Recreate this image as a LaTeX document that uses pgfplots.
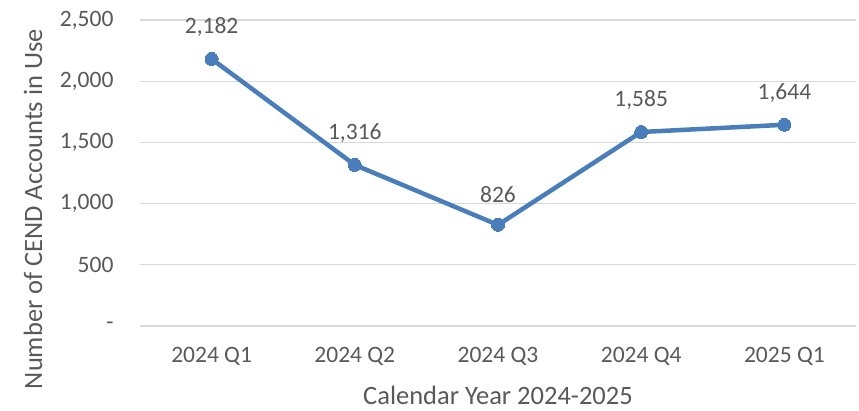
\documentclass[border=0pt]{standalone}
\usepackage{pgfplots}
\pgfplotsset{compat=1.18}
\usepackage{fontspec}
\setmainfont{Carlito}
\definecolor{lineblue}{HTML}{4A7EBB}
\definecolor{txt}{HTML}{595959}
\definecolor{gridgray}{HTML}{D9D9D9}
\begin{document}
\begin{tikzpicture}[x=1pt,y=1pt]
\useasboundingbox (0,0) rectangle (859,410);
\begin{axis}[
  at={(140pt,84pt)}, anchor=south west,
  scale only axis, width=716pt, height=306pt,
  xmin=-0.5, xmax=4.5, ymin=0, ymax=2500,
  xtick={0,1,2,3,4},
  xticklabels={2024 Q1,2024 Q2,2024 Q3,2024 Q4,2025 Q1},
  ytick={0,500,1000,1500,2000,2500},
  yticklabels={-,500,{1,000},{1,500},{2,000},{2,500}},
  axis line style={draw=none},
  major tick length=0pt,
  ymajorgrids, xmajorgrids=false,
  grid style={draw=gridgray, line width=1.3pt},
  tick label style={font=\fontsize{23.5}{28}\selectfont, text=txt},
  /pgf/number format/assume math mode=true,
  yticklabel style={xshift=-23pt},
  xticklabel style={yshift=-18pt},
  xlabel={Calendar Year 2024-2025},
  ylabel={Number of CEND Accounts in Use},
  label style={font=\fontsize{26.5}{30}\selectfont, text=txt},
  xlabel style={at={(rel axis cs:0.5,-0.2255)}, anchor=center},
  ylabel style={at={(rel axis cs:-0.1494,0.382)}, anchor=center},
  nodes near coords,
  every node near coord/.append style={font=\fontsize{23.5}{28}\selectfont, text=txt, yshift=19pt},
  point meta=explicit symbolic,
  clip=false,
]
\addplot[color=lineblue, line width=4.5pt, mark=*, mark size=6.5pt, mark options={fill=lineblue, draw=lineblue, line width=0pt}]
  table[meta=lab] {
x y lab
0 2182 {2,182}
1 1316 {1,316}
2 826 {826}
3 1585 {1,585}
4 1644 {1,644}
};
\end{axis}
\end{tikzpicture}
\end{document}
